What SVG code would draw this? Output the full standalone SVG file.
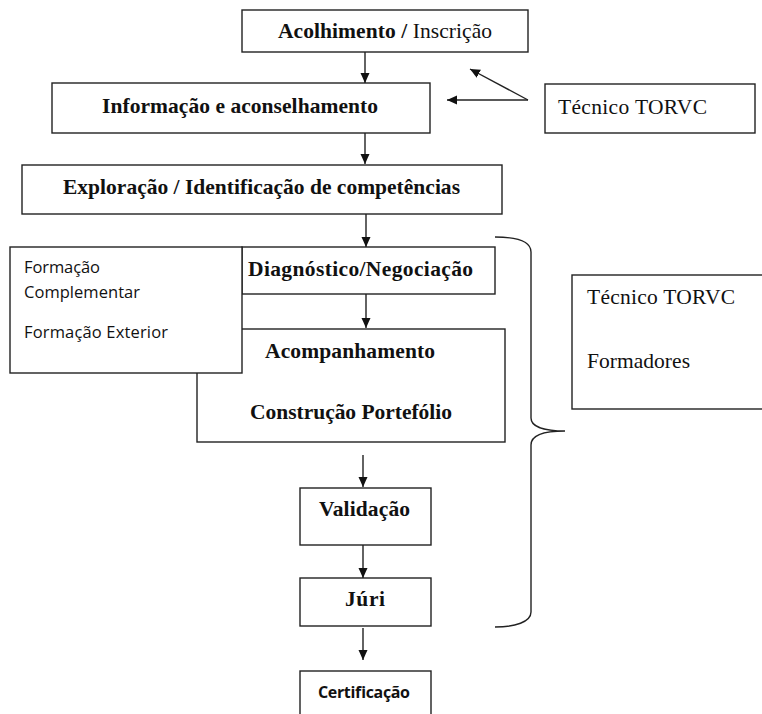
<svg xmlns="http://www.w3.org/2000/svg" width="762" height="714" viewBox="0 0 762 714">
<style>
.box{fill:#fff;stroke:#222;stroke-width:1.4}
.b{font-family:"Liberation Serif",serif;font-weight:bold;font-size:21.5px;fill:#111}
.r{font-family:"Liberation Serif",serif;font-size:21.5px;fill:#111}
.s{font-family:"Open Sans","Liberation Sans",sans-serif;font-size:16.5px;fill:#111}
.sb{font-family:"Open Sans","Liberation Sans",sans-serif;font-size:16px;font-weight:bold;fill:#111}
.c{stroke:#222;stroke-width:1.4;fill:none}
.m{text-anchor:middle}
</style>
<defs>
<marker id="ah" viewBox="0 0 10 10" refX="10" refY="5" markerUnits="userSpaceOnUse" markerWidth="10" markerHeight="10" orient="auto">
<path d="M0,0.5 L10,5 L0,9.5 z" fill="#111"/>
</marker>
</defs>
<rect width="762" height="714" fill="#fff"/>
<g id="acolhimento">
<rect class="box" x="242" y="10" width="286" height="42"/>
<text x="278" y="38" textLength="214" lengthAdjust="spacing"><tspan class="b">Acolhimento / </tspan><tspan class="r">Inscrição</tspan></text>
</g>
<g id="informacao">
<rect class="box" x="52" y="83" width="378" height="50"/>
<text class="b" x="102" y="113" textLength="276" lengthAdjust="spacing">Informação e aconselhamento</text>
</g>
<g id="tecnico1">
<rect class="box" x="545" y="84" width="210" height="49"/>
<text class="r" x="558" y="114" textLength="149" lengthAdjust="spacing">Técnico TORVC</text>
</g>
<g id="exploracao">
<rect class="box" x="22" y="165" width="480" height="49"/>
<text class="b" x="63" y="194" textLength="397" lengthAdjust="spacing">Exploração / Identificação de competências</text>
</g>
<g id="diagnostico">
<rect class="box" x="242" y="247" width="253" height="47"/>
<text class="b" x="248" y="276" textLength="225" lengthAdjust="spacing">Diagnóstico/Negociação</text>
</g>
<g id="acompanhamento">
<rect class="box" x="197" y="329" width="308" height="113"/>
<text class="b" x="265" y="358" textLength="170" lengthAdjust="spacing">Acompanhamento</text>
<text class="b" x="250" y="419" textLength="202" lengthAdjust="spacing">Construção Portefólio</text>
</g>
<g id="formacao">
<rect class="box" x="10" y="247" width="232" height="126"/>
<text class="s" x="24" y="273" textLength="76" lengthAdjust="spacing">Formação</text>
<text class="s" x="24" y="298" textLength="116" lengthAdjust="spacing">Complementar</text>
<text class="s" x="24" y="338" textLength="144" lengthAdjust="spacing">Formação  Exterior</text>
</g>
<g id="tecnico2">
<rect class="box" x="572" y="275" width="195" height="134"/>
<text class="r" x="587" y="304" textLength="148" lengthAdjust="spacing">Técnico TORVC</text>
<text class="r" x="587" y="368" textLength="103" lengthAdjust="spacing">Formadores</text>
</g>
<g id="validacao">
<rect class="box" x="300" y="488" width="131" height="57"/>
<text class="b" x="319" y="516" textLength="91" lengthAdjust="spacing">Validação</text>
</g>
<g id="juri">
<rect class="box" x="300" y="578" width="131" height="48"/>
<text class="b" x="345" y="606" textLength="40" lengthAdjust="spacing">Júri</text>
</g>
<g id="certificacao">
<rect class="box" x="300" y="671" width="131" height="60"/>
<text class="sb" x="318" y="698" textLength="92" lengthAdjust="spacing">Certificação</text>
</g>
<g id="connectors">
<line class="c" x1="365" y1="52" x2="365" y2="83" marker-end="url(#ah)"/>
<line class="c" x1="365" y1="133" x2="365" y2="164" marker-end="url(#ah)"/>
<line class="c" x1="366" y1="214" x2="366" y2="247" marker-end="url(#ah)"/>
<line class="c" x1="366" y1="294" x2="366" y2="328" marker-end="url(#ah)"/>
<line class="c" x1="363" y1="455" x2="363" y2="487" marker-end="url(#ah)"/>
<line class="c" x1="363" y1="545" x2="363" y2="578" marker-end="url(#ah)"/>
<line class="c" x1="363" y1="628" x2="363" y2="660" marker-end="url(#ah)"/>
<line class="c" x1="528" y1="100" x2="447" y2="100" marker-end="url(#ah)"/>
<line class="c" x1="528" y1="100" x2="470" y2="69" marker-end="url(#ah)"/>
<path class="c" stroke="#444" d="M495,237 C515,237 531,240 531,252 L531,418 C531,427 545,431 565,431 C545,431 531,435 531,445 L531,612 C531,622 515,627 495,627"/>
</g>
</svg>
